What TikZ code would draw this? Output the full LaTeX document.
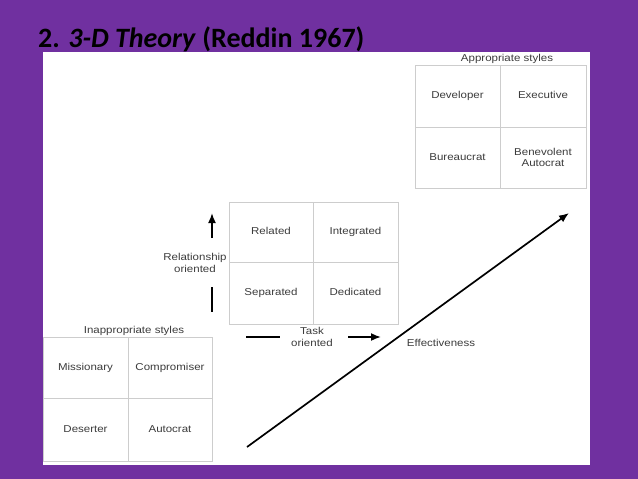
\documentclass[tikz,border=0pt]{standalone}
\usepackage{fontspec}
\setmainfont{Carlito}
\newfontfamily\cellfont[FakeStretch=1.15]{Liberation Sans}
\usetikzlibrary{arrows.meta, positioning, calc}
\definecolor{slidepurple}{RGB}{112,48,160}
\definecolor{gridgray}{RGB}{205,205,205}
\definecolor{labelgray}{RGB}{60,60,60}
\tikzset{
    cell/.style={draw=gridgray, line width=0.8pt, align=center, inner sep=0pt,
        text height=7.5pt, text depth=2.2pt,
        font=\cellfont\fontsize{10}{11.5}\selectfont, text=labelgray},
    caption/.style={align=center, inner sep=0pt,
        font=\cellfont\fontsize{10}{11.5}\selectfont, text=labelgray},
    axisline/.style={line width=1.7pt, black},
    axisarrow/.style={axisline, -{Latex[length=10pt, width=8pt]}}
}
\begin{document}
\begin{tikzpicture}[x=1pt, y=-1pt]
    \useasboundingbox (0,0) rectangle (638,479);
    \fill[slidepurple] (0,0) rectangle (638,479);
    \fill[white] (43,52) rectangle (590,465);
    \node[anchor=base west, inner sep=0pt, font=\fontsize{28}{32}\selectfont\bfseries]
        (title) at (38,47) {2. \textit{3-D Theory} (Reddin 1967)};

    % appropriate styles
    \node[cell, minimum width=85pt, minimum height=62pt] (dev) at (457.5,96) {Developer};
    \node[cell, minimum width=86pt, minimum height=62pt] (exe) at (543,96) {Executive};
    \node[cell, minimum width=85pt, minimum height=61pt] (bur) at (457.5,157.5) {Bureaucrat};
    \node[cell, minimum width=86pt, minimum height=61pt, text height={}, text depth={}] (ben) at (543,157.5) {Benevolent\\Autocrat};
    \node[caption] (appr) at (507,59) {Appropriate styles};

    % basic styles
    \node[cell, minimum width=84pt, minimum height=60pt] (rel) at (271,232) {Related};
    \node[cell, minimum width=85pt, minimum height=60pt] (int) at (355.5,232) {Integrated};
    \node[cell, minimum width=84pt, minimum height=62pt] (sep) at (271,293) {Separated};
    \node[cell, minimum width=85pt, minimum height=62pt] (ded) at (355.5,293) {Dedicated};

    % inappropriate styles
    \node[cell, minimum width=85pt, minimum height=61pt] (mis) at (85.5,367.5) {Missionary};
    \node[cell, minimum width=84pt, minimum height=61pt] (com) at (170,367.5) {Compromiser};
    \node[cell, minimum width=85pt, minimum height=63pt] (des) at (85.5,429.5) {Deserter};
    \node[cell, minimum width=84pt, minimum height=63pt] (aut) at (170,429.5) {Autocrat};
    \node[caption] (inappr) at (134,331) {Inappropriate styles};

    % axes
    \node[caption] (relor) at (195,263) {Relationship\\oriented};
    \coordinate (relA) at (212,238);
    \coordinate (relB) at (212,213);
    \coordinate (relC) at (212,287);
    \coordinate (relD) at (212,312);
    \draw[axisarrow] (relA) -- (relB);
    \draw[axisline] (relC) -- (relD);

    \node[caption] (taskor) at (312,337) {Task\\oriented};
    \coordinate (taskA) at (246,337);
    \coordinate (taskB) at (280,337);
    \coordinate (taskC) at (348,337);
    \coordinate (taskD) at (381,337);
    \draw[axisline] (taskA) -- (taskB);
    \draw[axisarrow] (taskC) -- (taskD);

    \node[caption] (eff) at (441,343) {Effectiveness};
    \coordinate (effA) at (247,447);
    \coordinate (effB) at (569,213);
    \draw[axisarrow] (effA) -- (effB);
\end{tikzpicture}
\end{document}
